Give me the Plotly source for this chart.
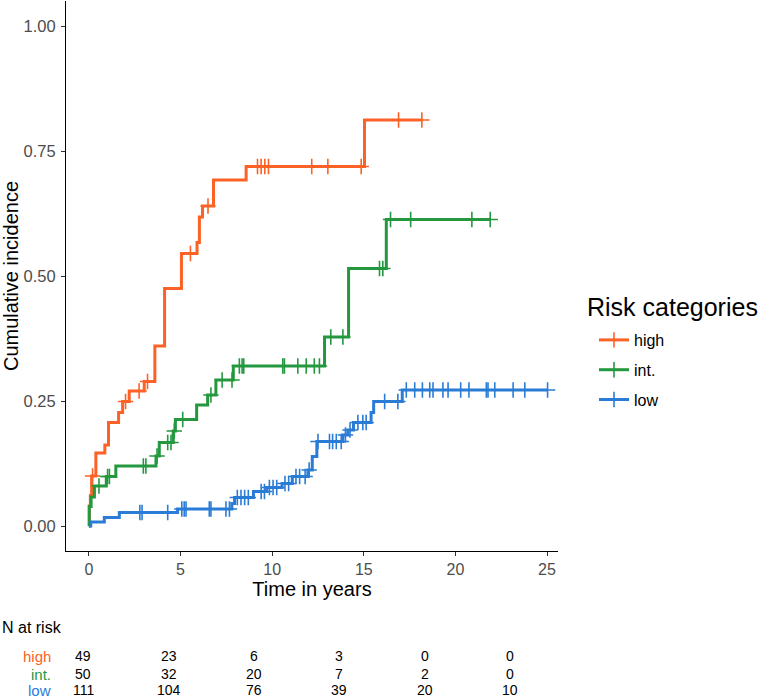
import plotly.graph_objects as go

# ---------------- data ----------------
# step events: time (years) and cumulative incidence after each step
high_t = [0, 0.02, 0.08, 0.15, 0.38, 0.87, 1.07, 1.62, 1.84, 2.2, 3.02, 3.6, 4.13, 5.05, 5.9, 6.03, 6.2, 6.8, 8.58, 15.04]
high_v = [0, 0.04, 0.061, 0.10, 0.146, 0.162, 0.207, 0.227, 0.249, 0.27, 0.289, 0.36, 0.475, 0.545, 0.567, 0.618, 0.64, 0.692, 0.719, 0.812]
high_end = 18.17
high_cens = [0.2, 2.0, 2.74, 3.2, 5.54, 6.5, 9.2, 9.4, 9.6, 9.8, 12.16, 13.04, 14.86, 16.9, 18.17]

int_t = [0, 0.02, 0.12, 0.3, 0.95, 1.47, 3.66, 3.84, 4.6, 4.72, 5.88, 6.48, 6.93, 7.88, 12.86, 14.17, 16.23]
int_v = [0, 0.039, 0.058, 0.08, 0.099, 0.12, 0.14, 0.167, 0.19, 0.213, 0.242, 0.262, 0.292, 0.32, 0.378, 0.515, 0.613]
int_end = 21.9
int_cens = [0.55, 1.02, 1.12, 2.97, 3.11, 3.72, 4.3, 4.48, 4.66, 5.12, 6.66, 7.27, 7.81, 8.21, 8.36, 8.45,
            10.58, 10.67, 11.4, 11.86, 12.3, 12.58, 13.2, 13.86, 15.86, 16.04, 16.46, 17.56, 20.9, 21.9]

low_t = [0, 0.1, 0.84, 1.66, 4.84, 7.8, 7.95, 8.98, 9.7, 10.54, 11.1, 11.95, 12.19, 12.44, 13.86, 14.13, 14.44, 15.4, 15.54, 17.1]
low_v = [0, 0.008, 0.017, 0.027, 0.034, 0.045, 0.057, 0.069, 0.077, 0.085, 0.099, 0.112, 0.139, 0.169, 0.182, 0.192, 0.207, 0.227, 0.249, 0.272]
low_end = 25.03
low_cens = [2.78, 2.9, 4.3, 5.07, 5.2, 5.3, 6.57, 6.66, 7.48, 7.67, 8.1, 8.3, 8.5, 8.7, 9.4, 9.58, 9.85, 10.05,
            10.25, 10.7, 10.9, 11.3, 11.5, 11.8, 12.02, 12.5, 13.13, 13.3, 13.5, 13.77, 14.0, 14.25, 14.68, 14.95,
            15.13, 16.14, 16.86, 17.32, 17.78, 18.2, 18.6, 18.78, 19.32, 19.6, 20.29, 20.74, 21.69, 21.78, 22.15,
            23.15, 23.79, 25.03]

group_names = ["high", "int.", "low"]
risk_times = [0, 5, 10, 15, 20, 25]
risk_high = [49, 23, 6, 3, 0, 0]
risk_int = [50, 32, 20, 7, 2, 0]
risk_low = [111, 104, 76, 39, 20, 10]

x_ticks = [0, 5, 10, 15, 20, 25]
y_ticks = [0, 0.25, 0.5, 0.75, 1.0]
y_ticktext = ["0.00", "0.25", "0.50", "0.75", "1.00"]

# ---------------- styling ----------------
colors = {"high": "#FC6126", "int.": "#24983F", "low": "#2A7CD6"}
FONT = "Liberation Sans, Arial, Helvetica, sans-serif"

# plot-area geometry (px)
L, R, T, B = 66, 558, 1, 551
W, H = R - L, B - T


def px_x(p):
    return (p - L) / W


def px_y(p):
    return (B - p) / H


def step_value(ts, vs, t):
    val = vs[0]
    for tt, vv in zip(ts, vs):
        if tt <= t:
            val = vv
    return val


series = [
    ("high", high_t, high_v, high_end, high_cens, risk_high),
    ("int.", int_t, int_v, int_end, int_cens, risk_int),
    ("low", low_t, low_v, low_end, low_cens, risk_low),
]

fig = go.Figure()

for name, ts, vs, end, cens, _ in series:
    c = colors[name]
    fig.add_trace(go.Scatter(
        x=ts + [end], y=vs + [vs[-1]], mode="lines", line=dict(color=c, width=3, shape="hv"),
        showlegend=False, hoverinfo="skip", legendgroup=name))
    fig.add_trace(go.Scatter(
        x=cens, y=[step_value(ts, vs, t) for t in cens], mode="markers",
        marker=dict(symbol="cross-thin", size=11, line=dict(color=c, width=1.6)),
        showlegend=False, hoverinfo="skip", legendgroup=name))
    # legend entry
    fig.add_trace(go.Scatter(
        x=[None], y=[None], mode="lines+markers", name=name, legendgroup=name,
        line=dict(color=c, width=3),
        marker=dict(symbol="cross-thin", size=11, line=dict(color=c, width=1.6))))

# invisible helper trace on the risk-table axis
fig.add_trace(go.Scatter(x=risk_times, y=[None] * len(risk_times), xaxis="x2", mode="markers",
                         showlegend=False, hoverinfo="skip"))

annotations = []
annotations.append(dict(text="Risk categories", xref="paper", yref="paper", x=px_x(585), y=px_y(307),
                        xanchor="left", yanchor="middle", showarrow=False,
                        font=dict(family=FONT, size=25, color="black")))
annotations.append(dict(text="N at risk", xref="paper", yref="paper", x=px_x(0), y=px_y(627),
                        xanchor="left", yanchor="middle", showarrow=False,
                        font=dict(family=FONT, size=16, color="black")))
row_y = [px_y(656), px_y(674), px_y(690)]
for (name, _, _, _, _, risk), ry in zip(series, row_y):
    annotations.append(dict(text=name, xref="paper", yref="paper", x=px_x(53), y=ry,
                            xanchor="right", yanchor="middle", showarrow=False,
                            font=dict(family=FONT, size=15, color=colors[name])))
    for t, n in zip(risk_times, risk):
        annotations.append(dict(text=str(n), xref="x2", yref="paper", x=t, y=ry,
                                xanchor="center", yanchor="middle", showarrow=False,
                                font=dict(family=FONT, size=14, color="black")))

fig.update_layout(
    width=762, height=700,
    margin=dict(l=L, r=762 - R, t=T, b=700 - B, autoexpand=False),
    paper_bgcolor="white", plot_bgcolor="white",
    font=dict(family=FONT, color="black"),
    xaxis=dict(range=[-1.25, 25.6], tickvals=x_ticks, showgrid=False, zeroline=False,
               showline=True, linecolor="black", linewidth=1.1, ticks="outside", ticklen=4,
               tickcolor="#333333", tickwidth=1.1,
               tickfont=dict(family=FONT, size=16, color="#4D4D4D"),
               title=dict(text="Time in years", font=dict(family=FONT, size=20, color="black"), standoff=4)),
    xaxis2=dict(range=[(L - 83.3) / 17.06, (R - 83.3) / 17.06], overlaying="x", anchor="y", visible=False),
    yaxis=dict(range=[-0.05, 1.05], tickvals=y_ticks, ticktext=y_ticktext, showgrid=False, zeroline=False,
               showline=True, linecolor="black", linewidth=1.1, ticks="outside", ticklen=4,
               tickcolor="#333333", tickwidth=1.1, ticklabelstandoff=2,
               tickfont=dict(family=FONT, size=16.5, color="#4D4D4D"),
               title=dict(text="Cumulative incidence", font=dict(family=FONT, size=20, color="black"), standoff=6)),
    legend=dict(font=dict(family=FONT, size=16, color="black"),
                x=px_x(594), xanchor="left", y=px_y(323), yanchor="top",
                tracegroupgap=6, bgcolor="rgba(0,0,0,0)"),
    annotations=annotations,
)

fig.write_html("out.html", config={"displayModeBar": False},
               post_script="document.body.style.margin='0px';")
